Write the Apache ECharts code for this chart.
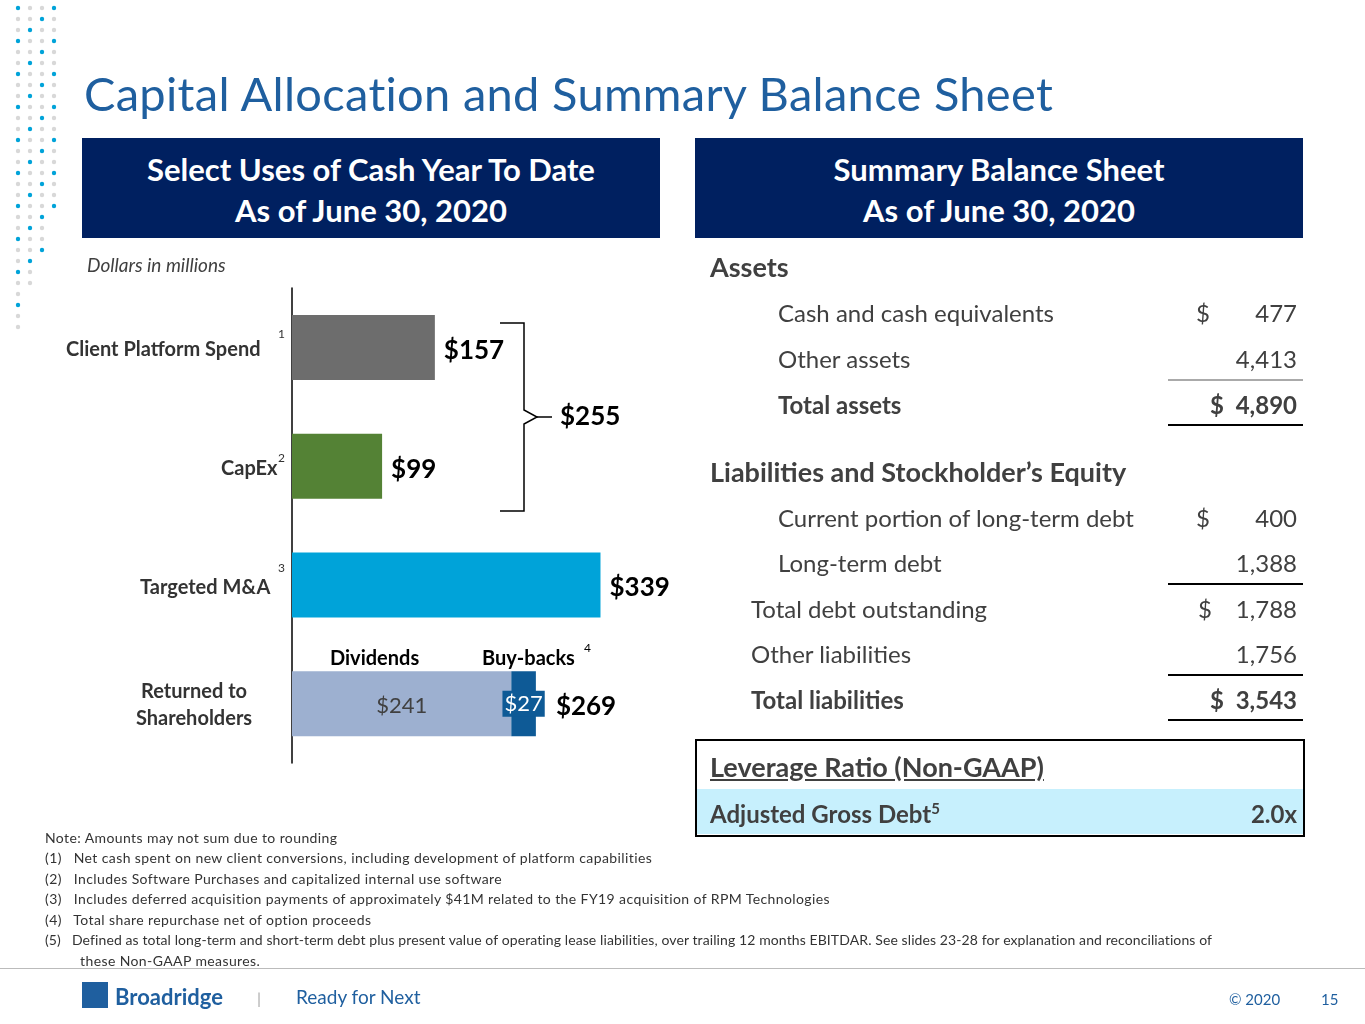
<!DOCTYPE html>
<html><head><meta charset="utf-8">
<script src="https://cdn.jsdelivr.net/npm/echarts@6/dist/echarts.min.js"></script>
<style>
body{margin:0;width:1365px;height:1024px;position:relative;font-family:Lato,"Open Sans",sans-serif;background:#fff;overflow:hidden}
.abs{position:absolute}
#chart{position:absolute;left:0;top:0;width:1365px;height:1024px}
.hdr{background:#002060;color:#fff;font-weight:bold;font-size:31px;text-align:center;line-height:41px;padding-top:11px;box-sizing:border-box;height:100px}
.row{position:absolute;font-size:24px;color:#404040}
.num{position:absolute;font-size:24px;color:#404040;text-align:right}
.b{font-weight:bold}
.line{position:absolute;height:0;border-top:2px solid #aaa}
.note{position:absolute;left:45px;font-size:14px;color:#333;letter-spacing:0.4px}
</style></head><body>
<div id="chart"></div>
<div class="abs" style="left:84px;top:65px;font-size:47px;color:#1f5f9f;letter-spacing:0.3px">Capital Allocation and Summary Balance Sheet</div>
<div class="abs hdr" style="left:82px;top:138px;width:578px">Select Uses of Cash Year To Date<br>As of June 30, 2020</div>
<div class="abs hdr" style="left:695px;top:138px;width:608px">Summary Balance Sheet<br>As of June 30, 2020</div>
<div class="abs" style="left:87px;top:253px;font-size:19px;font-style:italic;color:#404040">Dollars in millions</div>

<div class="abs b" style="left:66px;top:336px;font-size:20px;color:#333">Client Platform Spend</div>
<div class="abs" style="left:278px;top:326px;font-size:12px;color:#333">1</div>
<div class="abs b" style="left:221px;top:455px;font-size:20px;color:#333">CapEx</div>
<div class="abs" style="left:278px;top:450px;font-size:12px;color:#333">2</div>
<div class="abs b" style="left:140px;top:574px;font-size:20px;color:#333">Targeted M&amp;A</div>
<div class="abs" style="left:278px;top:560px;font-size:12px;color:#333">3</div>
<div class="abs b" style="left:136px;top:677px;font-size:20px;color:#333;text-align:center;line-height:27px">Returned to<br>Shareholders</div>
<div class="abs b" style="left:330px;top:645px;font-size:20px;color:#000">Dividends</div>
<div class="abs b" style="left:482px;top:645px;font-size:20px;color:#000">Buy-backs</div>
<div class="abs" style="left:584px;top:640px;font-size:12px;color:#000">4</div>

<div class="abs b" style="left:710px;top:250px;font-size:27px;color:#404040">Assets</div>
<div class="row" style="left:778px;top:298px">Cash and cash equivalents</div>
<div class="num" style="left:1196px;top:298px">$</div><div class="num" style="left:1200px;top:298px;width:97px">477</div>
<div class="row" style="left:778px;top:344px">Other assets</div>
<div class="num" style="left:1200px;top:344px;width:97px">4,413</div>
<div class="line" style="left:1168px;top:379px;width:135px"></div>
<div class="row b" style="left:778px;top:390px">Total assets</div>
<div class="num b" style="left:1168px;top:390px;width:129px">$&nbsp;&nbsp;4,890</div>
<div class="line" style="left:1168px;top:424px;width:135px;border-color:#000"></div>
<div class="abs b" style="left:710px;top:455px;font-size:27px;color:#404040">Liabilities and Stockholder’s Equity</div>
<div class="row" style="left:778px;top:503px">Current portion of long-term debt</div>
<div class="num" style="left:1196px;top:503px">$</div><div class="num" style="left:1200px;top:503px;width:97px">400</div>
<div class="row" style="left:778px;top:548px">Long-term debt</div>
<div class="num" style="left:1200px;top:548px;width:97px">1,388</div>
<div class="line" style="left:1168px;top:583px;width:135px;border-color:#000"></div>
<div class="row" style="left:751px;top:594px">Total debt outstanding</div>
<div class="num" style="left:1198px;top:594px">$</div><div class="num" style="left:1200px;top:594px;width:97px">1,788</div>
<div class="row" style="left:751px;top:639px">Other liabilities</div>
<div class="num" style="left:1200px;top:639px;width:97px">1,756</div>
<div class="line" style="left:1168px;top:674px;width:135px;border-color:#000"></div>
<div class="row b" style="left:751px;top:685px">Total liabilities</div>
<div class="num b" style="left:1168px;top:685px;width:129px">$&nbsp;&nbsp;3,543</div>
<div class="line" style="left:1168px;top:719px;width:135px;border-color:#000"></div>

<div class="abs" style="left:695px;top:739px;width:606px;height:94px;border:2px solid #000"></div>
<div class="abs" style="left:697px;top:789px;width:606px;height:45px;background:#c7f0fd"></div>
<div class="abs b" style="left:710px;top:750px;font-size:27px;color:#404040;text-decoration:underline">Leverage Ratio (Non-GAAP)</div>
<div class="abs b" style="left:710px;top:799px;font-size:24px;color:#404040">Adjusted Gross Debt<sup style="font-size:15px">5</sup></div>
<div class="abs b" style="left:1200px;top:799px;width:97px;text-align:right;font-size:24px;color:#404040">2.0x</div>

<div class="note" style="top:829px">Note: Amounts may not sum due to rounding</div>
<div class="note" style="top:849px">(1)&nbsp;&nbsp;&nbsp;Net cash spent on new client conversions, including development of platform capabilities</div>
<div class="note" style="top:870px">(2)&nbsp;&nbsp;&nbsp;Includes Software Purchases and capitalized internal use software</div>
<div class="note" style="top:890px">(3)&nbsp;&nbsp;&nbsp;Includes deferred acquisition payments of approximately $41M related to the FY19 acquisition of RPM Technologies</div>
<div class="note" style="top:911px">(4)&nbsp;&nbsp;&nbsp;Total share repurchase net of option proceeds</div>
<div class="note" style="top:931px;letter-spacing:0.1px">(5)&nbsp;&nbsp;&nbsp;Defined as total long-term and short-term debt plus present value of operating lease liabilities, over trailing 12 months EBITDAR. See slides 23-28 for explanation and reconciliations of</div>
<div class="note" style="top:952px;left:80px">these Non-GAAP measures.</div>
<div class="abs" style="left:0;top:968px;width:1365px;border-top:1px solid #bbb"></div>
<div class="abs" style="left:82px;top:982px;width:26px;height:26px;background:#1f5f9f"></div>
<div class="abs b" style="left:115px;top:983px;font-size:22px;color:#1f5f9f">Broadridge</div>
<div class="abs" style="left:257px;top:988px;font-size:16px;color:#aaa">|</div>
<div class="abs" style="left:296px;top:985px;font-size:19px;color:#1f5f9f">Ready for Next</div>
<div class="abs" style="left:1229px;top:990px;font-size:15px;color:#1f5f9f">© 2020</div>
<div class="abs" style="left:1321px;top:990px;font-size:15px;color:#1f5f9f">15</div>
<script>
var categories = ['Client Platform Spend', 'CapEx', 'Targeted M&A', 'Returned to Shareholders'];
var useValues = [157, 99, 339, null];
var useColors = ['#6d6d6d', '#548235', '#00a3d9', '#9db0d0'];
var dividends = [null, null, null, 241];
var buybacks = [null, null, null, 27];
var returnedTotal = 269;
var bracketTotal = 255;

var chart = echarts.init(document.getElementById('chart'));
// dots decoration
var dots = [];
for (var c = 0; c < 4; c++) for (var r = 0; r < 30; r++) {
  var y = 8 + r * 11;
  if (y > 330 - c * 40) continue;
  dots.push({type: 'circle', shape: {cx: 18 + c * 12, cy: y, r: 2.2},
    style: {fill: (r + c) % 3 === 0 ? '#00a3d9' : '#d8d8d8'}});
}
chart.setOption({
  animation: false,
  grid: {left: 292, top: 288, width: 364, height: 475},
  xAxis: {type: 'value', min: 0, max: 400, show: false},
  yAxis: {type: 'category', data: categories, inverse: true,
    axisLabel: {show: false}, axisTick: {show: false},
    axisLine: {lineStyle: {color: '#000', width: 1.5}}},
  series: [
    {type: 'bar', stack: 'a', barWidth: 65,
      data: useValues.map(function (v, i) { return v == null ? null : {value: v, itemStyle: {color: useColors[i]}}; }),
      label: {show: true, position: 'right', distance: 9, formatter: function (p) { return '$' + p.value; },
        fontSize: 26, fontWeight: 'bold', color: '#000', fontFamily: 'Lato', offset: [0, 3]}},
    {type: 'bar', stack: 'a', barWidth: 65, data: dividends, itemStyle: {color: useColors[3]},
      label: {show: true, position: 'inside', formatter: '${c}', fontSize: 22, color: '#404040', fontFamily: 'Lato', offset: [0, 2]}},
    {type: 'bar', stack: 'a', barWidth: 65, data: buybacks, itemStyle: {color: '#0e5a96'},
      label: {show: true, position: 'inside', formatter: '${c}', fontSize: 22, color: '#fff', fontFamily: 'Lato',
        backgroundColor: '#0e5a96', padding: [2, 2]}},
    {type: 'bar', stack: 'a', barWidth: 65, data: [null, null, null, 0],
      label: {show: true, position: 'right', distance: 20, formatter: '$' + returnedTotal,
        fontSize: 26, fontWeight: 'bold', color: '#000', fontFamily: 'Lato', offset: [0, 3]}}
  ],
  graphic: dots.concat([
    {type: 'polyline', shape: {points: [[500, 323], [524, 323], [524, 410], [537, 417], [524, 424], [524, 511], [500, 511]]},
      style: {stroke: '#000', lineWidth: 1.5, fill: null}},
    {type: 'line', shape: {x1: 537, y1: 417, x2: 552, y2: 417}, style: {stroke: '#000', lineWidth: 1.5}},
    {type: 'text', left: 560, top: 404, style: {text: '$' + bracketTotal, fontSize: 26, fontWeight: 'bold', fill: '#000', fontFamily: 'Lato'}}
  ])
});
</script>
</body></html>
